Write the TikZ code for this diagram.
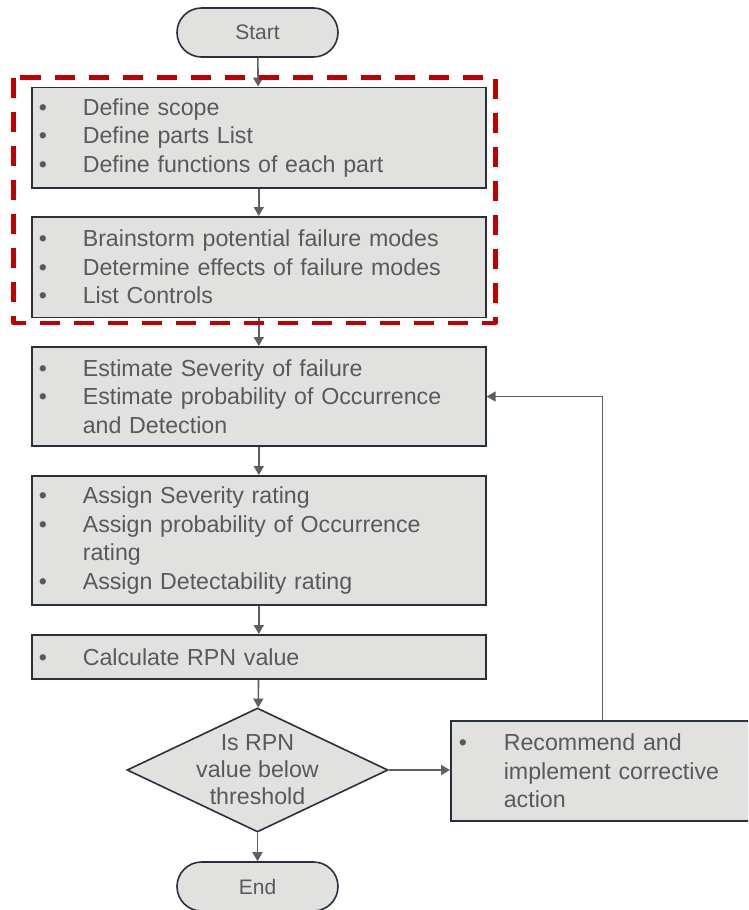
\documentclass[tikz,border=0pt]{standalone}
\usepackage{fontspec}
\setmainfont{Liberation Sans}
\usetikzlibrary{shapes.geometric,arrows.meta}
\definecolor{boxfill}{HTML}{E1E1E0}
\definecolor{boxline}{HTML}{27313D}
\definecolor{txtgray}{HTML}{595959}
\definecolor{linkgray}{HTML}{5F5F5F}
\definecolor{scopered}{HTML}{C00000}
% one bulleted line, and a continuation line aligned with the bullet text
\newcommand{\itm}[1]{\makebox[51pt][l]{\hspace{7pt}\textbullet}#1}
\newcommand{\cont}[1]{\hspace*{51pt}#1}
\newcommand{\ritm}[1]{\makebox[53pt][l]{\hspace{8pt}\textbullet}#1}
\newcommand{\rcont}[1]{\hspace*{53pt}#1}
\tikzset{
  stepbox/.style={draw=boxline, fill=boxfill, line width=1.6pt, inner sep=0pt,
    text width=454pt, minimum height=#1, anchor=north west, align=left,
    text=txtgray, font=\fontsize{23.2}{28.5}\selectfont},
  terminal/.style={draw=boxline, fill=boxfill, line width=1.6pt, rounded corners=24.5pt,
    minimum width=161pt, minimum height=49pt, inner sep=0pt,
    text=txtgray, font=\fontsize{21}{25}\selectfont},
  decision/.style={diamond, draw=boxline, fill=boxfill, line width=1.6pt,
    minimum width=261pt, minimum height=124pt, inner sep=0pt},
  link/.style={draw=linkgray, line width=1.6pt, -{Triangle[length=9pt,width=10pt]}},
}
\begin{document}
\begin{tikzpicture}[x=1pt,y=-1pt]
\useasboundingbox (0,0) rectangle (748,910);
\clip (0,0) rectangle (748,910);

\node[terminal] (start) at (257.5,32.5) {Start};

\node[stepbox=100.5pt] (scope) at (31,86.5) {%
  \itm{Define scope}\\
  \itm{Define parts List}\\
  \itm{Define functions of each part}};

\node[stepbox=100.5pt] (modes) at (31,216) {%
  \itm{Brainstorm potential failure modes}\\
  \itm{Determine effects of failure modes}\\
  \itm{List Controls}};

\node[stepbox=99pt] (estimate) at (31,346) {%
  \itm{Estimate Severity of failure}\\
  \itm{Estimate probability of Occurrence}\\
  \cont{and Detection}};

\node[stepbox=129pt] (assign) at (31,475) {%
  \itm{Assign Severity rating}\\
  \itm{Assign probability of Occurrence}\\
  \cont{rating}\\
  \itm{Assign Detectability rating}};

\node[stepbox=44pt] (rpn) at (31,634) {\itm{Calculate RPN value}};

\node[decision] (check) at (257.5,770) {};
\node[align=center, text=txtgray, font=\fontsize{23.2}{27}\selectfont, inner sep=0pt]
  (checktext) at (check.center) {Is RPN\\value below\\threshold};

\node[stepbox=100pt, text width=320pt] (action) at (450,720) {%
  \ritm{Recommend and}\\
  \rcont{implement corrective}\\
  \rcont{action}};

\node[terminal] (stop) at (257.5,886.5) {End};

% main flow
\draw[link] (start) -- (scope);
\draw[link] (scope) -- (modes);
\draw[link] (modes) -- (estimate);
\draw[link] (estimate) -- (assign);
\draw[link] (assign) -- (rpn);
\draw[link] (rpn) -- (check);
\draw[link] (check) -- (stop);
\draw[link] (check.east) -- (action.west |- check.east);
% feedback loop back to the estimation step
\coordinate (loopup) at (602.5,720);
\coordinate (loopturn) at (602.5,396.5);
\draw[link] (loopup) -- (loopturn) -- (estimate.east |- loopturn);

% red dashed frame around the definition steps
\draw[scopered, line width=4.3pt, line join=round, dash pattern=on 20pt off 14pt]
  (13.5,77.5) rectangle (495.5,323);
\end{tikzpicture}
\end{document}
